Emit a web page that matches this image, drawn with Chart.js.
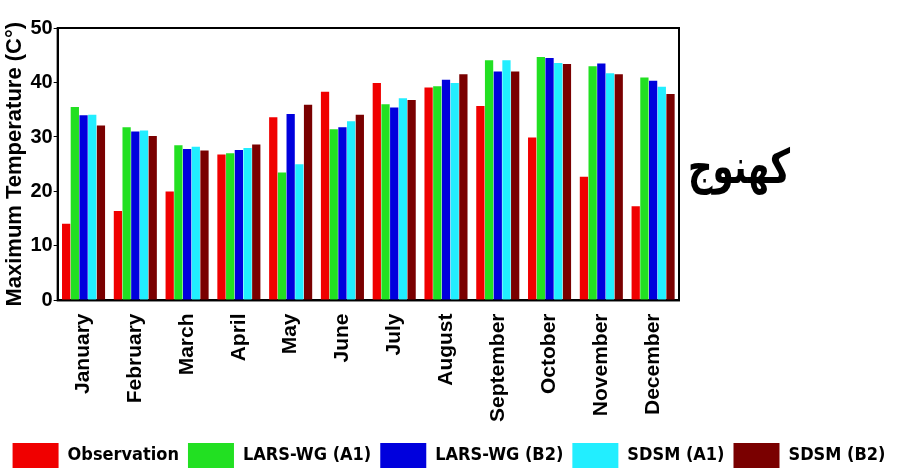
<!DOCTYPE html>
<html>
<head>
<meta charset="utf-8">
<script src="https://cdn.jsdelivr.net/npm/chart.js@4"></script>
<style>
  html, body { margin: 0; padding: 0; background: #fff; }
  #wrap { position: relative; width: 897px; height: 470px; }
  #place { position: absolute; left: 688px; top: 138px; font: bold 34px 'DejaVu Sans', sans-serif; direction: rtl; color: #000; transform: scaleY(1.4); transform-origin: top left; }
</style>
</head>
<body>
<div id="wrap">
  <canvas id="chart" width="897" height="470"></canvas>
  <div id="place">کهنوج</div>
</div>
<script>
// monthly max temperature, Kahnuj station
const months = ['January', 'February', 'March', 'April', 'May', 'June', 'July', 'August', 'September', 'October', 'November', 'December'];
const observation = [14.1, 16.4, 20.0, 26.8, 33.6, 38.3, 39.9, 39.1, 35.7, 29.9, 22.7, 17.3];
const larsA1 = [35.5, 31.8, 28.5, 27.0, 23.5, 31.4, 36.0, 39.3, 44.1, 44.7, 43.0, 40.9];
const larsB2 = [34.0, 31.0, 27.8, 27.6, 34.2, 31.8, 35.4, 40.5, 42.0, 44.5, 43.5, 40.3];
const sdsmA1 = [34.1, 31.2, 28.2, 28.0, 25.0, 32.9, 37.1, 39.9, 44.1, 43.6, 41.7, 39.2];
const sdsmB2 = [32.1, 30.2, 27.5, 28.6, 35.9, 34.1, 36.8, 41.5, 42.0, 43.4, 41.5, 37.9];
const yTicks = [0, 10, 20, 30, 40, 50];

const seriesNames = ['Observation', 'LARS-WG (A1)', 'LARS-WG (B2)', 'SDSM (A1)', 'SDSM (B2)'];
const seriesColors = ['#f00000', '#22e022', '#0000dd', '#22eeff', '#7a0000'];

const datasets = [observation, larsA1, larsB2, sdsmA1, sdsmB2].map((d, i) => ({
  label: seriesNames[i],
  data: d,
  backgroundColor: seriesColors[i],
  borderWidth: 0,
  barPercentage: 0.95,
  categoryPercentage: 0.84
}));

// box round the plot area
const frame = {
  id: 'frame',
  afterDatasetsDraw(chart) {
    const a = chart.chartArea, ctx = chart.ctx;
    ctx.save();
    ctx.strokeStyle = '#000';
    ctx.lineWidth = 2;
    ctx.strokeRect(a.left, a.top, a.right - a.left, a.bottom - a.top);
    ctx.restore();
  }
};

new Chart(document.getElementById('chart'), {
  type: 'bar',
  data: { labels: months, datasets: datasets },
  plugins: [frame],
  options: {
    responsive: false,
    animation: false,
    layout: { padding: { top: 28, left: 1, bottom: -8, right: 0 } },
    plugins: {
      tooltip: { enabled: false },
      legend: {
        position: 'bottom',
        labels: {
          boxWidth: 46,
          boxHeight: 25,
          padding: 9,
          color: '#000',
          font: { family: "'Liberation Sans Narrow', 'DejaVu Sans Condensed', sans-serif", size: 18, weight: 'bold' }
        }
      }
    },
    scales: {
      x: {
        grid: { display: false },
        border: { display: true, color: '#000', width: 2 },
        afterFit: s => { s.height += 7; },
        ticks: {
          color: '#000',
          minRotation: 90,
          maxRotation: 90,
          padding: 5,
          font: { family: "'Liberation Sans', Arial, sans-serif", size: 21, weight: 'bold' }
        }
      },
      y: {
        min: 0,
        max: 50,
        afterBuildTicks: s => { s.ticks = yTicks.map(v => ({ value: v })); },
        grid: { drawOnChartArea: false, drawTicks: true, tickLength: 4, color: '#000' },
        border: { display: true, color: '#000', width: 2 },
        ticks: {
          color: '#000',
          padding: 1,
          font: { family: "'Liberation Sans', Arial, sans-serif", size: 20, weight: 'bold' }
        },
        title: {
          display: true,
          text: 'Maximum Temperature (C°)',
          color: '#000',
          padding: 1,
          font: { family: "'Liberation Sans', Arial, sans-serif", size: 22, weight: 'bold' }
        }
      },
      y2: {
        position: 'right',
        display: true,
        grid: { display: false },
        border: { display: false },
        ticks: { display: false },
        afterFit: s => { s.width = 218; }
      }
    }
  }
});
</script>
</body>
</html>
